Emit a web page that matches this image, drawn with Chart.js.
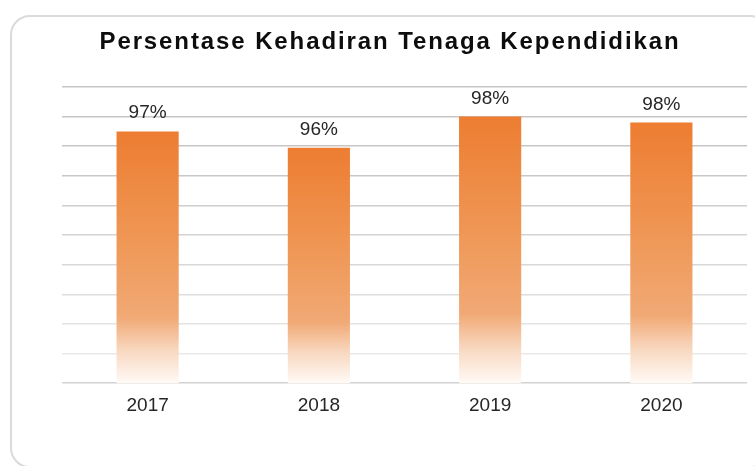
<!DOCTYPE html>
<html>
<head>
<meta charset="utf-8">
<script src="https://cdn.jsdelivr.net/npm/chart.js@4.4.1/dist/chart.umd.min.js"></script>
<style>
  html, body { margin: 0; padding: 0; background: #fff; overflow: hidden; }
  #frame {
    position: absolute; left: 10px; top: 15px; width: 760px; height: 453px;
    border: 2px solid #dadada; border-radius: 20px; box-sizing: border-box;
  }
  #wrap { position: absolute; left: 0; top: 0; width: 755px; height: 466px; }
</style>
</head>
<body>
<div id="frame"></div>
<div id="wrap"><canvas id="attendanceChart" width="755" height="466"></canvas></div>
<script>
// data (percent)
const years = ['2017', '2018', '2019', '2020'];
const attendance = [97.0, 95.9, 98.0, 97.6];
const axisMin = 80;
const axisMax = 100;
const axisStep = 2;
const chartTitle = 'Persentase Kehadiran Tenaga Kependidikan';

// orange fading to white towards the base of each bar
function barGradient(context) {
  const chart = context.chart;
  const yScale = chart.scales.y;
  if (!chart.chartArea || !yScale) return '#ED7D31';
  const top = yScale.getPixelForValue(attendance[context.dataIndex]);
  const bottom = yScale.getPixelForValue(axisMin);
  const g = chart.ctx.createLinearGradient(0, top, 0, bottom);
  g.addColorStop(0, '#ED7D31');
  g.addColorStop(0.45, '#EF9857');
  g.addColorStop(0.74, '#F1A975');
  g.addColorStop(0.87, '#F8D8C0');
  g.addColorStop(1, '#FFFAF6');
  return g;
}

// grid lines look darker near the top, lighter near the base
function gridColor(context) {
  if (context.tick && context.tick.value === axisMin) return '#d2d2d2';
  const t = (context.tick ? context.tick.value - axisMin : 0) / (axisMax - axisMin);
  const v = Math.round(0xee - (0xee - 0xc6) * Math.min(1, t * 1.35));
  return `rgb(${v},${v},${v})`;
}

const valueLabels = {
  id: 'valueLabels',
  afterDatasetsDraw(chart) {
    const ctx = chart.ctx;
    const meta = chart.getDatasetMeta(0);
    ctx.save();
    ctx.font = '19px "Liberation Sans", Arial, sans-serif';
    ctx.fillStyle = '#262626';
    ctx.textAlign = 'center';
    ctx.textBaseline = 'alphabetic';
    meta.data.forEach((bar, i) => {
      ctx.fillText(Math.round(attendance[i]) + '%', bar.x, bar.y - 13);
    });
    ctx.restore();
  }
};

const spacedTitle = {
  id: 'spacedTitle',
  afterDraw(chart) {
    const ctx = chart.ctx;
    ctx.save();
    ctx.font = 'bold 24px "Liberation Sans", Arial, sans-serif';
    ctx.letterSpacing = '1.9px';
    ctx.fillStyle = '#0d0d0d';
    ctx.textAlign = 'center';
    ctx.textBaseline = 'alphabetic';
    ctx.fillText(chartTitle, 390, 49);
    ctx.restore();
  }
};

new Chart(document.getElementById('attendanceChart'), {
  type: 'bar',
  data: {
    labels: years,
    datasets: [{
      data: attendance,
      backgroundColor: barGradient,
      borderWidth: 0,
      categoryPercentage: 1,
      barPercentage: 0.363
    }]
  },
  options: {
    responsive: false,
    animation: false,
    layout: { padding: { left: 62, right: 8, top: 87, bottom: 38 } },
    plugins: {
      legend: { display: false },
      tooltip: { enabled: false },
      title: { display: false }
    },
    scales: {
      x: {
        grid: { display: false, drawTicks: false },
        border: { display: false },
        ticks: {
          color: '#262626',
          padding: 11,
          font: { family: '"Liberation Sans", Arial, sans-serif', size: 19 }
        }
      },
      y: {
        min: axisMin,
        max: axisMax,
        ticks: { display: false, stepSize: axisStep },
        border: { display: false },
        grid: { color: gridColor, lineWidth: 1.6, drawTicks: false }
      }
    }
  },
  plugins: [valueLabels, spacedTitle]
});
</script>
</body>
</html>
